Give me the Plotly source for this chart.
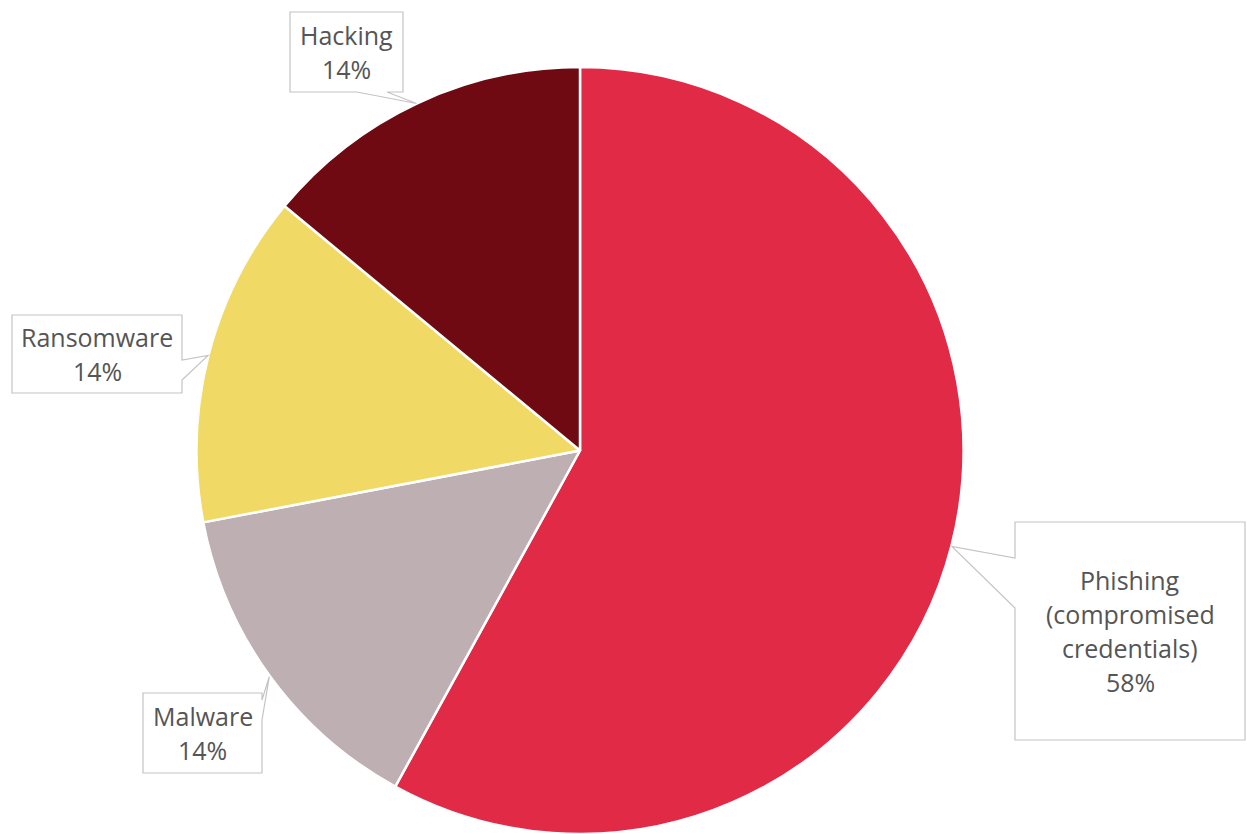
import math
import plotly.graph_objects as go

# Share of incidents by attack vector
categories = ["Phishing (compromised credentials)", "Malware", "Ransomware", "Hacking"]
values = [58, 14, 14, 14]
label_lines = [
    ["Phishing", "(compromised", "credentials)", "58%"],
    ["Malware", "14%"],
    ["Ransomware", "14%"],
    ["Hacking", "14%"],
]
colors = ["#E02A46", "#BEAFB2", "#F1D966", "#6F0A12"]

W, H = 1247, 834
CX, CY, R = 580, 451, 384

# Callout boxes (pixel space): x0, x1, y0, y1, side of the pointer, pointer base (a, b)
callouts = [
    dict(box=(1015, 1245, 522, 740), side="left", base=(558, 608)),
    dict(box=(143, 262, 693, 773), side="right", base=(700, 720)),
    dict(box=(12, 182, 315, 393), side="right", base=(360, 380)),
    dict(box=(290, 403, 12, 92), side="bottom", base=(357, 387)),
]

fig = go.Figure()

fig.add_trace(go.Pie(
    labels=categories,
    values=values,
    sort=False,
    direction="clockwise",
    rotation=0,
    marker=dict(colors=colors, line=dict(color="white", width=2.5)),
    textinfo="none",
    hoverinfo="label+percent",
    showlegend=False,
    domain=dict(x=[(CX - R) / W, (CX + R) / W],
                y=[max(0.0, (H - CY - R) / H), (H - CY + R) / H]),
))

# Invisible pixel-space axes for the callouts
fig.add_trace(go.Scatter(x=[0, W], y=[0, H], mode="markers",
                         marker=dict(opacity=0), hoverinfo="skip", showlegend=False))

total = sum(values)
cum = 0.0
shapes = []
annotations = []
for val, lines, co in zip(values, label_lines, callouts):
    mid = (cum + val / 2) / total * 2 * math.pi
    cum += val
    tx = CX + R * math.sin(mid)
    ty = CY - R * math.cos(mid)
    x0, x1, y0, y1 = co["box"]
    a, b = co["base"]
    if co["side"] == "left":
        pts = [(x0, y0), (x1, y0), (x1, y1), (x0, y1), (x0, b), (tx, ty), (x0, a)]
    elif co["side"] == "right":
        pts = [(x0, y0), (x1, y0), (x1, a), (tx, ty), (x1, b), (x1, y1), (x0, y1)]
    else:  # bottom
        pts = [(x0, y0), (x1, y0), (x1, y1), (b, y1), (tx, ty), (a, y1), (x0, y1)]
    path = "M " + " L ".join(f"{px:.1f},{py:.1f}" for px, py in pts) + " Z"
    shapes.append(dict(type="path", path=path, xref="x", yref="y",
                       line=dict(color="#C4C4C4", width=1.2), fillcolor="white"))
    cx_box = (x0 + x1) / 2
    cy_box = (y0 + y1) / 2
    step = 34
    n = len(lines)
    for i, line in enumerate(lines):
        annotations.append(dict(
            x=cx_box, y=cy_box + (i - (n - 1) / 2) * step,
            xref="x", yref="y", text=line, showarrow=False,
            xanchor="center", yanchor="middle",
            font=dict(family="Open Sans, Noto Sans, sans-serif", size=25, color="#555555"),
        ))

fig.update_layout(
    width=W, height=H,
    margin=dict(l=0, r=0, t=0, b=0),
    paper_bgcolor="white", plot_bgcolor="rgba(0,0,0,0)",
    xaxis=dict(range=[0, W], visible=False, fixedrange=True, domain=[0, 1]),
    yaxis=dict(range=[H, 0], visible=False, fixedrange=True, domain=[0, 1]),
    shapes=shapes,
    annotations=annotations,
)

fig.write_html("out.html")
